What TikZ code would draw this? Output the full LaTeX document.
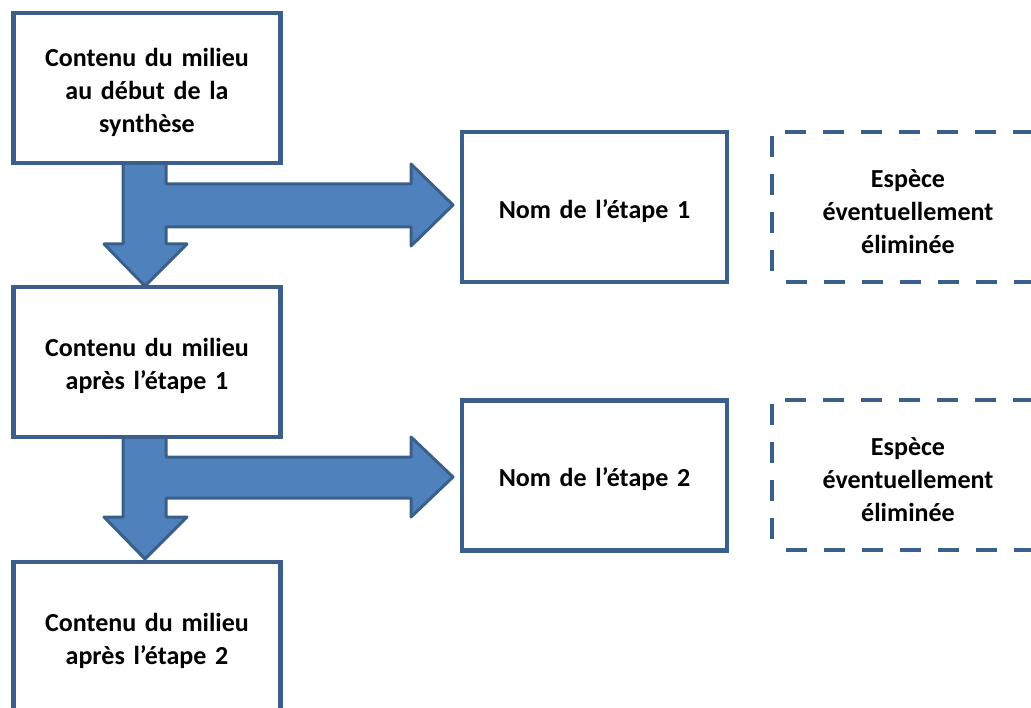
\documentclass[tikz,border=0pt]{standalone}
\usepackage{fontspec}
\setmainfont{Carlito}
\definecolor{edgeblue}{HTML}{3A5F8B}
\definecolor{fillblue}{HTML}{4F81BD}
\begin{document}
\begin{tikzpicture}[x=1pt,y=-1pt,
  solidbox/.style={draw=edgeblue, line width=4.5pt, fill=white, minimum width=267pt, minimum height=150pt, inner sep=0pt, align=center, font=\fontsize{26}{33}\selectfont\bfseries, text width=250pt, execute at begin node={\rule{0pt}{27pt}}},
  dashbox/.style={solidbox, dash pattern=on 21pt off 17pt, dash phase=-14pt, line width=4.5pt, minimum width=272pt},
  bigarrow/.style={draw=edgeblue, fill=fillblue, line width=3pt, line join=round}]
\useasboundingbox (0,0) rectangle (1031,708);
\begin{scope}
\clip (0,0) rectangle (1031,708);
% arrows (drawn first, boxes cover their top ends)
\draw[bigarrow] (123,158) -- (123,244) -- (104,244) -- (145,286) -- (187,244) -- (166,244) -- (166,227) -- (411,227) -- (411,246) -- (453,205) -- (411,164) -- (411,184) -- (166,184) -- (166,158) -- cycle;
\draw[bigarrow] (123,432) -- (123,517) -- (104,517) -- (145,559) -- (187,517) -- (166,517) -- (166,498) -- (411,498) -- (411,517) -- (453,477) -- (411,437) -- (411,457) -- (166,457) -- (166,432) -- cycle;
\node[solidbox] (b1) at (147,88) {Contenu du milieu\\au début de la\\synthèse};
\node[solidbox] (b2) at (147,362) {Contenu du milieu\\après l’étape 1};
\node[solidbox] (b3) at (147,637) {Contenu du milieu\\après l’étape 2};
\node[solidbox, minimum width=265pt] (s1) at (594.5,207) {Nom de l’étape 1};
\node[solidbox, minimum width=265pt] (s2) at (594.5,475.5) {Nom de l’étape 2};
\node[dashbox] (d1) at (908,207) {Espèce\\éventuellement\\éliminée};
\node[dashbox] (d2) at (908,475) {Espèce\\éventuellement\\éliminée};
\end{scope}
\end{tikzpicture}
\end{document}
